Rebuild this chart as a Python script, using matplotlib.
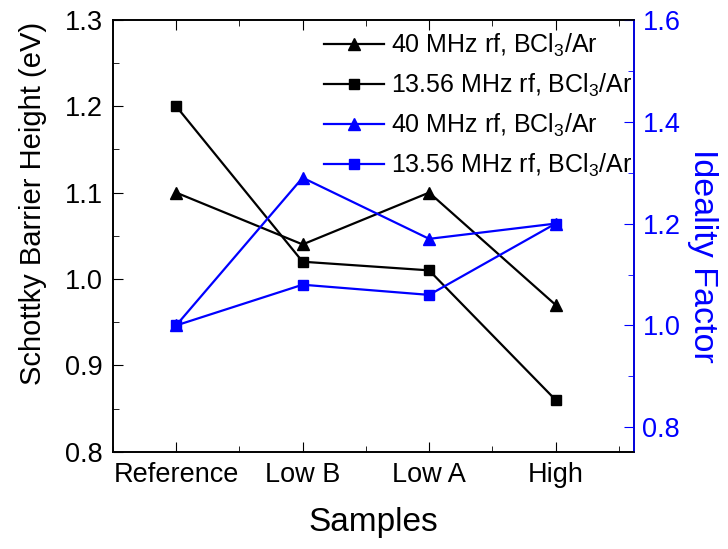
import matplotlib.pyplot as plt
from matplotlib.ticker import MultipleLocator

plt.rcParams['font.family'] = ['Liberation Sans', 'DejaVu Sans']
plt.rcParams['mathtext.fontset'] = 'custom'
plt.rcParams['mathtext.rm'] = 'Liberation Sans'
plt.rcParams['mathtext.it'] = 'Liberation Sans:italic'

samples = ['Reference', 'Low B', 'Low A', 'High']
sbh_40 = [1.10, 1.04, 1.10, 0.97]
sbh_1356 = [1.20, 1.02, 1.01, 0.86]
n_40 = [1.00, 1.29, 1.17, 1.20]
n_1356 = [1.00, 1.08, 1.06, 1.20]

lab40 = '40 MHz rf, BCl$_3$/Ar'
lab1356 = '13.56 MHz rf, BCl$_3$/Ar'

x = list(range(len(samples)))

fig = plt.figure(figsize=(7.28, 5.49), dpi=100)
ax = fig.add_axes([0.155, 0.177, 0.716, 0.787])
ax2 = ax.twinx()

l1, = ax.plot(x, sbh_40, '-^', color='black', lw=1.6, ms=8, label=lab40)
l2, = ax.plot(x, sbh_1356, '-s', color='black', lw=1.6, ms=7, label=lab1356)
l3, = ax2.plot(x, n_40, '-^', color='blue', lw=1.6, ms=8, label=lab40)
l4, = ax2.plot(x, n_1356, '-s', color='blue', lw=1.6, ms=7, label=lab1356)

ax.set_xlim(-0.5, 3.62)
ax.set_ylim(0.8, 1.3)
ax2.set_ylim(0.752, 1.6)

ax.set_xticks(x)
ax.set_xticklabels(samples)
ax.xaxis.set_minor_locator(MultipleLocator(0.5))
ax.yaxis.set_major_locator(MultipleLocator(0.1))
ax.yaxis.set_minor_locator(MultipleLocator(0.05))
ax.yaxis.set_major_formatter(plt.FormatStrFormatter('%.1f'))
ax2.yaxis.set_major_locator(MultipleLocator(0.2))
ax2.yaxis.set_minor_locator(MultipleLocator(0.1))
ax2.yaxis.set_major_formatter(plt.FormatStrFormatter('%.1f'))

ax.tick_params(axis='both', which='both', direction='in', top=True, right=False, labelsize=19.5)
ax.tick_params(which='major', length=7)
ax.tick_params(which='minor', length=4)
ax.tick_params(axis='x', pad=7)
ax.tick_params(axis='y', pad=7)
ax2.tick_params(axis='y', which='both', direction='in', colors='blue', labelsize=19.5, pad=6)
ax2.tick_params(which='major', length=7)
ax2.tick_params(which='minor', length=4)

ax2.spines['right'].set_color('blue')
for s in ax.spines.values():
    s.set_linewidth(1.2)
for s in ax2.spines.values():
    s.set_linewidth(1.2)

ax.set_xlabel('Samples', fontsize=24, labelpad=14)
ax.set_ylabel('Schottky Barrier Height (eV)', fontsize=21, labelpad=13)
ax.yaxis.label.set_y(0.575)
ax2.set_ylabel('Ideality Factor', fontsize=24.5, color='blue', rotation=270, labelpad=27)
ax2.yaxis.label.set_y(0.454)

ax2.legend([l1, l2, l3, l4], [lab40, lab1356, lab40, lab1356], loc='upper right',
           bbox_to_anchor=(1.012, 0.99),
           frameon=False, fontsize=18, handlelength=2.4, handletextpad=0.3,
           labelspacing=0.52, borderaxespad=0.0, borderpad=0.3)

fig.savefig('out.png', dpi=100)
